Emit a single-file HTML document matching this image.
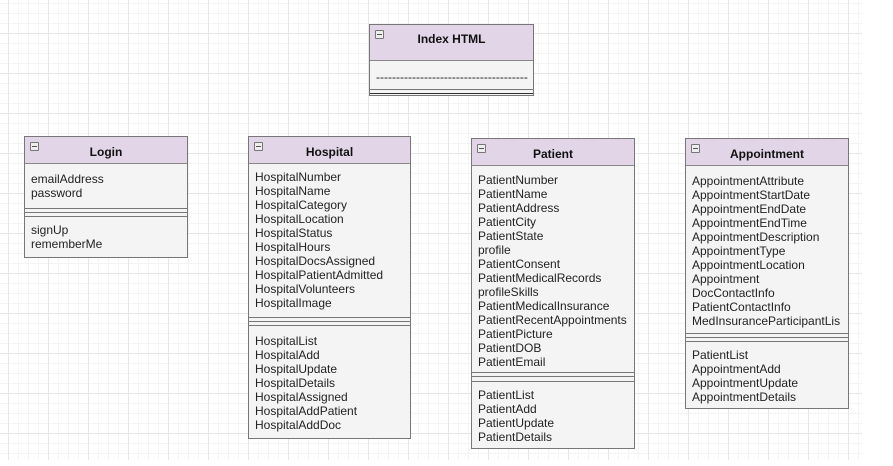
<!DOCTYPE html>
<html><head><meta charset="utf-8"><style>
html,body{margin:0;padding:0}
body{width:893px;height:466px;position:relative;overflow:hidden;background:#fff;
font-family:"Liberation Sans",Arial,sans-serif;}
.grid{position:absolute;left:0;top:0;width:862px;height:460px;
background-image:
linear-gradient(to right,#e6e6e6 1px,transparent 1px),
linear-gradient(to bottom,#e6e6e6 1px,transparent 1px),
linear-gradient(to right,#f4f4f4 1px,transparent 1px),
linear-gradient(to bottom,#f4f4f4 1px,transparent 1px);
background-size:40px 40px,40px 40px,10px 10px,10px 10px;
background-position:8px 33px,8px 33px,8px 3px,8px 3px;}
.box{position:absolute;border:1px solid #777;background:#f4f4f4;box-sizing:border-box}
.hd{position:absolute;left:0;right:0;top:0;height:27px;background:#e1d5e7;border-bottom:1px solid #888;
font-weight:bold;font-size:12px;color:#111;text-align:center;line-height:30px;box-sizing:border-box}
.mn{position:absolute;left:5px;top:5px;width:7px;height:7px;border:1px solid #777;background:#eee;border-radius:1px}
.mn:after{content:"";position:absolute;left:1px;right:1px;top:3px;height:1px;background:#555}
.t{position:absolute;left:6px;font-size:12px;line-height:14px;color:#222;white-space:nowrap}
.ln{position:absolute;left:0;right:0;height:1px;background:#777}
</style></head><body>
<div class="grid"></div>
<div id="root"></div>
<script>
var boxes=[
{x:369,y:24,w:165,h:72,hh:36,title:"Index HTML",items:["--------------------------------------"],it:45,seps:[64,68],mt:0,methods:[]},
{x:24,y:136,w:164,h:122,title:"Login",items:["emailAddress","password"],it:35,seps:[71,75,79],mt:86,methods:["signUp","rememberMe"]},
{x:248,y:136,w:163,h:303,title:"Hospital",items:["HospitalNumber","HospitalName","HospitalCategory","HospitalLocation","HospitalStatus","HospitalHours","HospitalDocsAssigned","HospitalPatientAdmitted","HospitalVolunteers","HospitalImage"],it:33,seps:[180,184,188],mt:197,methods:["HospitalList","HospitalAdd","HospitalUpdate","HospitalDetails","HospitalAssigned","HospitalAddPatient","HospitalAddDoc"]},
{x:471,y:138,w:164,h:311,title:"Patient",items:["PatientNumber","PatientName","PatientAddress","PatientCity","PatientState","profile","PatientConsent","PatientMedicalRecords","profileSkills","PatientMedicalInsurance","PatientRecentAppointments","PatientPicture","PatientDOB","PatientEmail"],it:34,seps:[233,237,242],mt:249,methods:["PatientList","PatientAdd","PatientUpdate","PatientDetails"]},
{x:685,y:138,w:164,h:271,title:"Appointment",items:["AppointmentAttribute","AppointmentStartDate","AppointmentEndDate","AppointmentEndTime","AppointmentDescription","AppointmentType","AppointmentLocation","Appointment","DocContactInfo","PatientContactInfo","MedInsuranceParticipantLis"],it:35,seps:[194,198,202],mt:209,methods:["PatientList","AppointmentAdd","AppointmentUpdate","AppointmentDetails"]}
];
var h="";
boxes.forEach(function(b){
var hs=b.hh?'style="height:'+b.hh+'px;line-height:28px"':'';
h+='<div class="box" style="left:'+b.x+'px;top:'+b.y+'px;width:'+b.w+'px;height:'+b.h+'px"><div class="hd" '+hs+'>'+b.title+'</div><div class="mn"></div>';
b.items.forEach(function(s,i){h+='<div class="t" style="top:'+(b.it+i*14)+'px">'+s+'</div>';});
b.seps.forEach(function(y,i){h+='<div class="ln" style="top:'+y+'px;'+(b.seps.length==2&&i==1?'background:#333;':'')+'"></div>';});
b.methods.forEach(function(s,i){h+='<div class="t" style="top:'+(b.mt+i*14)+'px">'+s+'</div>';});
h+='</div>';
});
document.getElementById("root").innerHTML=h;
</script>
</body></html>
